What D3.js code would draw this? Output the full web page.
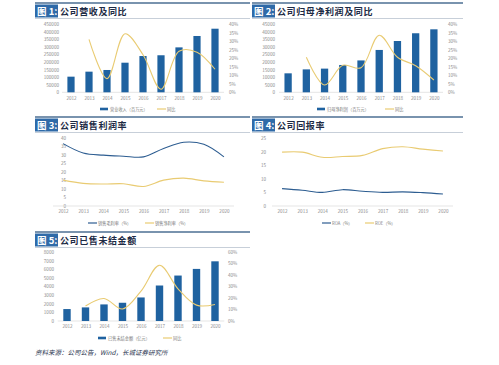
<!DOCTYPE html>
<html><head><meta charset="utf-8">
<script src="https://cdn.jsdelivr.net/npm/d3@7"></script>
<style>
html,body{margin:0;padding:0;background:#fff;}
svg{display:block;}
text{font-family:"Noto Sans CJK SC","Noto Sans",sans-serif;}
</style></head>
<body>
<svg id="c" width="499" height="365"></svg>
<script>
const years = ["2012","2013","2014","2015","2016","2017","2018","2019","2020"];
// Chart 1
const revenue = [103000,136000,147000,195000,239000,244000,296000,371000,419000];
const revenueYoY = [null,31,8,34.3,22,1.8,24,23.5,13.5];
const ticks1L = [0,50000,100000,150000,200000,250000,300000,350000,400000,450000];
const ticks1R = [0,5,10,15,20,25,30,35,40];
// Chart 2
const netProfit = [12500,15100,15600,18000,21000,27900,33800,38900,41500];
const netProfitYoY = [null,20.5,4.3,15.8,14.4,33.4,20.5,15.6,7.2];
const ticks2L = [0,5000,10000,15000,20000,25000,30000,35000,40000,45000];
const ticks2R = [0,5,10,15,20,25,30,35,40];
// Chart 3
const grossMargin = [36.7,31.2,29.9,29.3,28.9,33.8,37.5,36.3,28.9];
const netMargin = [15.2,13.3,12.9,13.1,11.5,15.2,16.4,14.8,14.0];
const ticks3 = [0,5,10,15,20,25,30,35,40];
// Chart 4
const roa = [6.4,5.8,5.0,6.0,5.4,5.0,5.2,4.9,4.4];
const roe = [19.8,19.8,17.9,18.2,18.6,21.1,21.8,20.9,20.2];
const ticks4 = [0,5,10,15,20,25];
// Chart 5
const unsettled = [1385,1577,1923,2115,2730,4115,5270,6040,6920];
const unsettledYoY = [null,13,19.6,10.4,26,48.5,28,13.8,14.4];
const ticks5L = [0,1000,2000,3000,4000,5000,6000,7000,8000];
const ticks5R = [0,10,20,30,40,50,60];

const svg = d3.select("#c");
const BLUE = "#1f62a0", YEL = "#e9cb72", LBLUE = "#2d5d91", TICK = "#8c8c8c";
const curve = d3.curveCatmullRom.alpha(0.5);

function header(x0, x1, y, num, title){
  svg.append("line").attr("x1",x0).attr("x2",x1).attr("y1",y).attr("y2",y)
    .attr("stroke","#4d6f93").attr("stroke-width",1.6);
  svg.append("rect").attr("x",x0).attr("y",y+1.5).attr("width",23).attr("height",13).attr("fill","#2f6aa8");
  svg.append("text").attr("x",x0+2).attr("y",y+11.5).attr("fill","#fff")
    .attr("font-size",9.5).attr("font-weight","bold").text("图 "+num+":");
  svg.append("text").attr("x",x0+25).attr("y",y+11.5).attr("fill","#1d2b45")
    .attr("font-size",9).attr("font-weight","bold").attr("letter-spacing",0.6).text(title);
  svg.append("line").attr("x1",x0).attr("x2",x1).attr("y1",y+15.5).attr("y2",y+15.5)
    .attr("stroke","#b9c3cf").attr("stroke-width",0.8);
}

function yAxis(scale, ticks, x, anchorEnd, fmt){
  const g = svg.append("g").attr("transform",`translate(${x},0)`);
  const ax = (anchorEnd ? d3.axisLeft(scale) : d3.axisRight(scale)).tickValues(ticks).tickSize(0).tickPadding(0).tickFormat(fmt);
  g.call(ax);
  g.select(".domain").remove();
  g.selectAll("text").attr("fill",TICK).attr("font-size",4.6).attr("font-family","Noto Sans, sans-serif");
}
function xAxis(scale, y, x0, x1){
  svg.append("line").attr("x1",x0).attr("x2",x1).attr("y1",y).attr("y2",y).attr("stroke","#d4d4d4").attr("stroke-width",0.6);
  const g = svg.append("g").attr("transform",`translate(0,${y})`);
  g.call(d3.axisBottom(scale).tickSize(0).tickPadding(4));
  g.select(".domain").remove();
  g.selectAll("text").attr("fill",TICK).attr("font-size",4.6).attr("font-family","Noto Sans, sans-serif");
}
function legend(items, y){
  items.forEach(it=>{
    if(it.type==="bar"){
      svg.append("rect").attr("x",it.x).attr("y",y-1.3).attr("width",8).attr("height",2.6).attr("fill",it.color);
    } else {
      svg.append("line").attr("x1",it.x).attr("x2",it.x+9).attr("y1",y).attr("y2",y).attr("stroke",it.color).attr("stroke-width",1.2);
    }
    svg.append("text").attr("x",it.x+10).attr("y",y+1.5).attr("fill","#7a7a7a").attr("font-size",4.2).text(it.label);
  });
}
function barLine(o){
  const x = d3.scalePoint().domain(years).range(o.xr).padding(0.5);
  const yL = d3.scaleLinear().domain([0,o.lmax]).range(o.yr);
  const yR = d3.scaleLinear().domain([0,o.rmax]).range(o.yr);
  yAxis(yL, o.tl, o.lx, true, d=>String(d));
  yAxis(yR, o.tr, o.rx, false, d=>d+"%");
  xAxis(x, o.yr[0], o.xr[0], o.xr[1]);
  const bw = x.step()*0.4;
  svg.append("g").selectAll("rect").data(o.bars).join("rect")
    .attr("x",(d,i)=>x(years[i])-bw/2).attr("width",bw)
    .attr("y",d=>yL(d)).attr("height",d=>yL(0)-yL(d)).attr("fill",BLUE);
  const pts = o.line.map((v,i)=>[x(years[i]),v]).filter(p=>p[1]!==null);
  svg.append("path").datum(pts).attr("fill","none").attr("stroke",YEL).attr("stroke-width",1.1)
    .attr("d",d3.line().x(p=>p[0]).y(p=>yR(p[1])).curve(curve));
}
function twoLines(o){
  const x = d3.scalePoint().domain(years).range(o.xr).padding(0.5);
  const y = d3.scaleLinear().domain([0,o.max]).range(o.yr);
  yAxis(y, o.ticks, o.lx, true, d=>String(d));
  xAxis(x, o.yr[0], o.xr[0], o.xr[1]);
  o.series.forEach(s=>{
    svg.append("path").datum(s.data).attr("fill","none").attr("stroke",s.color).attr("stroke-width",1.1)
      .attr("d",d3.line().x((d,i)=>x(years[i])).y(d=>y(d)).curve(curve));
  });
}

// Panel 1
header(35,250,3,"1","公司营收及同比");
barLine({xr:[62,224], yr:[92.3,24], lmax:450000, rmax:40, tl:ticks1L, tr:ticks1R, lx:59, rx:229,
  bars:revenue, line:revenueYoY});
legend([{type:"bar",x:100,color:BLUE,label:"营业收入（百万元）"},{type:"line",x:157,color:YEL,label:"同比"}],109);

// Panel 2
header(252,463,3,"2","公司归母净利润及同比");
barLine({xr:[279,443], yr:[92.3,24], lmax:45000, rmax:40, tl:ticks2L, tr:ticks2R, lx:275, rx:448,
  bars:netProfit, line:netProfitYoY});
legend([{type:"bar",x:317,color:BLUE,label:"归母净利润（百万元）"},{type:"line",x:385,color:YEL,label:"同比"}],109);

// Panel 3
header(35,250,117,"3","公司销售利润率");
twoLines({xr:[53,234], yr:[206,138], max:40, ticks:ticks3, lx:66,
  series:[{data:grossMargin,color:LBLUE},{data:netMargin,color:YEL}]});
legend([{type:"line",x:88,color:LBLUE,label:"销售毛利率（%）"},{type:"line",x:145,color:YEL,label:"销售净利率（%）"}],223);

// Panel 4
header(252,463,117,"4","公司回报率");
twoLines({xr:[272,453], yr:[206,138], max:25, ticks:ticks4, lx:266,
  series:[{data:roa,color:LBLUE},{data:roe,color:YEL}]});
legend([{type:"line",x:322,color:LBLUE,label:"ROA（%）"},{type:"line",x:365,color:YEL,label:"ROE（%）"}],223);

// Panel 5
header(35,250,232,"5","公司已售未结金额");
barLine({xr:[57.75,224.25], yr:[321,252], lmax:8000, rmax:60, tl:ticks5L, tr:ticks5R, lx:54, rx:228,
  bars:unsettled, line:unsettledYoY});
legend([{type:"bar",x:98,color:BLUE,label:"已售未结金额（亿元）"},{type:"line",x:163,color:YEL,label:"同比"}],338);

svg.append("text").attr("x",35).attr("y",355).attr("font-size",6.5).attr("font-style","italic")
  .attr("fill","#2a3550").text("资料来源：公司公告，Wind，长城证券研究所");
</script>
</body></html>
